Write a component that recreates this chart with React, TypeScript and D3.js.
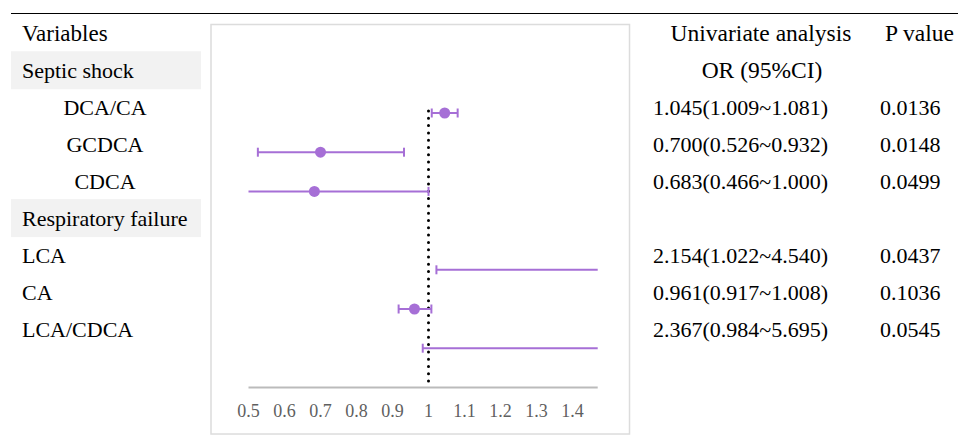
import React from "react";
import * as d3 from "d3";

// rows of the table, top to bottom
const labels = [
  "Variables",
  "Septic shock",
  "DCA/CA",
  "GCDCA",
  "CDCA",
  "Respiratory failure",
  "LCA",
  "CA",
  "LCA/CDCA",
];
const groupRows = [1, 5];
const centeredRows = [2, 3, 4];

const orRows = [2, 3, 4, 6, 7, 8];
const orValues = [1.045, 0.7, 0.683, 2.154, 0.961, 2.367];
const ciLow = [1.009, 0.526, 0.466, 1.022, 0.917, 0.984];
const ciHigh = [1.081, 0.932, 1.0, 4.54, 1.008, 5.695];
const orText = [
  "1.045(1.009~1.081)",
  "0.700(0.526~0.932)",
  "0.683(0.466~1.000)",
  "2.154(1.022~4.540)",
  "0.961(0.917~1.008)",
  "2.367(0.984~5.695)",
];
const pText = ["0.0136", "0.0148", "0.0499", "0.0437", "0.1036", "0.0545"];

const xTicks = [0.5, 0.6, 0.7, 0.8, 0.9, 1, 1.1, 1.2, 1.3, 1.4];

const PURPLE = "#a66fd6";
const FONT = "Liberation Serif";

export default function App() {
  const width = 958;
  const height = 444;

  // table baselines
  const rowY = d3.scaleLinear().domain([0, 8]).range([41, 336.7]);
  // forest plot rows
  const plotY = d3.scaleLinear().domain([0, 9]).range([34.6, 387.4]);
  const x = d3.scaleLinear().domain([0.5, 1.47]).range([248.5, 597.7]);
  const [xMin, xMax] = x.domain();
  const clamp = (v: number) => Math.max(xMin, Math.min(xMax, v));
  const txt = { fontFamily: FONT };

  return (
    <svg
      width={width}
      height={height}
      style={{ position: "absolute", left: 0, top: 0, fontFamily: FONT }}
    >
      <line x1={11} x2={958} y1={13.5} y2={13.5} stroke="#000" strokeWidth={1} />

      {groupRows.map((r) => (
        <rect
          key={r}
          x={11}
          y={rowY(r) - 26.7}
          width={190}
          height={38}
          fill="#f2f2f2"
        />
      ))}

      {labels.map((t, i) => {
        const centered = centeredRows.includes(i);
        return (
          <text
            key={t}
            x={centered ? 105 : 22}
            y={rowY(i)}
            textAnchor={centered ? "middle" : "start"}
            fontSize={i === 0 ? 23 : 22}
            fill="#000"
            style={txt}
          >
            {t}
          </text>
        );
      })}

      {/* plot frame */}
      <rect
        x={211}
        y={24.5}
        width={418.5}
        height={409.5}
        fill="#fff"
        stroke="#dcdcdc"
        strokeWidth={1.5}
      />

      <line
        x1={x.range()[0]}
        x2={x.range()[1]}
        y1={plotY(9)}
        y2={plotY(9)}
        stroke="#bbb"
        strokeWidth={2}
      />
      {xTicks.map((t) => (
        <text
          key={t}
          x={x(t)}
          y={417}
          textAnchor="middle"
          fontSize={18}
          fill="#5f5f5f"
          style={txt}
        >
          {d3.format("~g")(t)}
        </text>
      ))}

      <line
        x1={x(1)}
        x2={x(1)}
        y1={plotY(2) - 2}
        y2={plotY(9) - 4}
        stroke="#000"
        strokeWidth={3}
        strokeLinecap="round"
        strokeDasharray="0 7.3"
      />

      {orRows.map((r, i) => {
        const y = plotY(r);
        const lo = ciLow[i];
        const hi = ciHigh[i];
        const v = orValues[i];
        return (
          <g key={r}>
            <line
              x1={x(clamp(lo))}
              x2={x(clamp(hi))}
              y1={y}
              y2={y}
              stroke={PURPLE}
              strokeWidth={2}
            />
            {lo >= xMin && lo <= xMax && (
              <line x1={x(lo)} x2={x(lo)} y1={y - 4.5} y2={y + 4.5} stroke={PURPLE} strokeWidth={2} />
            )}
            {hi >= xMin && hi <= xMax && (
              <line x1={x(hi)} x2={x(hi)} y1={y - 4.5} y2={y + 4.5} stroke={PURPLE} strokeWidth={2} />
            )}
            {v >= xMin && v <= xMax && <circle cx={x(v)} cy={y} r={5.5} fill={PURPLE} />}
          </g>
        );
      })}

      <text x={761} y={rowY(0)} textAnchor="middle" fontSize={23.5} style={txt}>
        Univariate analysis
      </text>
      <text x={762} y={rowY(1)} textAnchor="middle" fontSize={23.5} style={txt}>
        OR (95%CI)
      </text>
      <text x={885} y={rowY(0)} fontSize={23.5} style={txt}>
        P value
      </text>
      {orRows.map((r, i) => (
        <g key={r}>
          <text x={653} y={rowY(r)} fontSize={22} style={txt}>
            {orText[i]}
          </text>
          <text x={880} y={rowY(r)} fontSize={22} style={txt}>
            {pText[i]}
          </text>
        </g>
      ))}
    </svg>
  );
}
